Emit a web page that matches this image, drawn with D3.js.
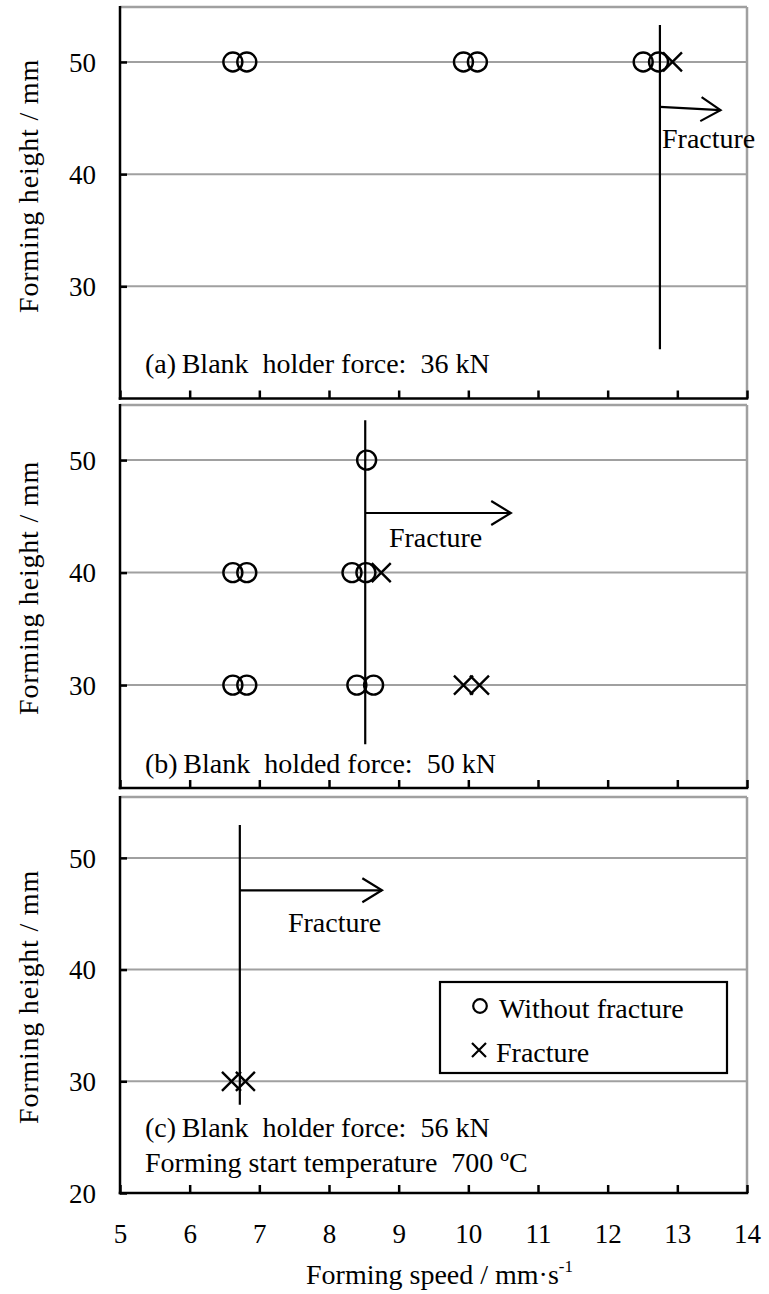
<!DOCTYPE html>
<html>
<head>
<meta charset="utf-8">
<script src="https://cdn.jsdelivr.net/npm/d3@7"></script>
<style>
  html, body { margin: 0; padding: 0; background: #fff; }
  svg { display: block; }
  svg text { font-family: "Liberation Serif", "Times New Roman", Times, "DejaVu Serif", serif; fill: #000; }
</style>
</head>
<body>
<svg id="chart" width="769" height="1294"></svg>
<script>
// ---- data -------------------------------------------------------------
const speedTicks = [5, 6, 7, 8, 9, 10, 11, 12, 13, 14];
const heightTicksA = [30, 40, 50];
const heightTicksB = [30, 40, 50];
const heightTicksC = [20, 30, 40, 50];
const gridHeights = [30, 40, 50];

// [forming speed (mm/s), forming height (mm)]
const noFractureA = [[6.62, 50], [6.82, 50], [9.93, 50], [10.13, 50], [12.51, 50], [12.73, 50]];
const fractureA = [[12.93, 50]];
const noFractureB = [[8.54, 50], [6.62, 40], [6.82, 40], [8.33, 40], [8.53, 40],
                     [6.62, 30], [6.82, 30], [8.40, 30], [8.64, 30]];
const fractureB = [[8.75, 40], [9.93, 30], [10.16, 30]];
const noFractureC = [];
const fractureC = [[6.6, 30], [6.8, 30]];

// fracture boundary: speed, height span, arrow start/end, label anchor
const boundarySpeed = [12.75, 8.52, 6.72];
const boundarySpan = [[24.4, 53.3], [24.75, 53.55], [27.9, 52.95]];
const arrowFrom = [[12.75, 46.0], [8.52, 45.3], [6.72, 47.1]];
const arrowTo = [[13.62, 45.7], [10.61, 45.3], [8.76, 47.1]];
const fractureLabelAt = [[12.78, 42.3], [8.86, 42.3], [7.41, 43.4]];

const panelNotes = [
  ["(a)\u2009Blank  holder force:  36 kN"],
  ["(b)\u2009Blank  holded force:  50 kN"],
  ["(c)\u2009Blank  holder force:  56 kN", "Forming start temperature  700 \u00baC"]
];

const legendLabels = ["Without fracture", "Fracture"];
const xTitle = "Forming speed / mm\u00b7s";
const yTitle = "Forming height / mm";

// ---- layout -----------------------------------------------------------
const left = 120, right = 747;
const panelTop = [7, 405, 797];
const panelBottom = [398.5, 788, 1193];
const heightMin = [20, 20.85, 20];
const heightMax = [54.9, 54.9, 55.45];
const yTitleCenter = [186, 588, 997];
const noteBaseline = [[373], [773], [1137, 1172]];

const serif = "Liberation Serif, Times New Roman, Times, DejaVu Serif, serif";
const svg = d3.select("#chart").attr("font-family", serif);
const x = d3.scaleLinear().domain([5, 14]).range([left, right]);

const gridColor = "#a0a0a0";
const fontSize = 27;

const panels = [
  { ticks: heightTicksA, open: noFractureA, cross: fractureA },
  { ticks: heightTicksB, open: noFractureB, cross: fractureB },
  { ticks: heightTicksC, open: noFractureC, cross: fractureC }
];

function crossPath(cx, cy, r) {
  return `M${cx - r},${cy - r}L${cx + r},${cy + r}M${cx - r},${cy + r}L${cx + r},${cy - r}`;
}

panels.forEach((p, i) => {
  const y = d3.scaleLinear().domain([heightMin[i], heightMax[i]]).range([panelBottom[i], panelTop[i]]);
  const g = svg.append("g");

  // grid lines
  g.selectAll("line.grid").data(gridHeights).join("line")
    .attr("x1", left).attr("x2", right)
    .attr("y1", d => y(d)).attr("y2", d => y(d))
    .attr("stroke", gridColor).attr("stroke-width", 2);

  // frame: top and right in grey
  g.append("line").attr("x1", left).attr("x2", right)
    .attr("y1", panelTop[i]).attr("y2", panelTop[i])
    .attr("stroke", gridColor).attr("stroke-width", 2.5);
  g.append("line").attr("x1", right).attr("x2", right)
    .attr("y1", panelTop[i]).attr("y2", panelBottom[i])
    .attr("stroke", gridColor).attr("stroke-width", 2.5);

  // y axis
  const yAxis = g.append("g").attr("transform", `translate(${left},0)`)
    .call(d3.axisLeft(y).tickValues(p.ticks).tickSize(-7).tickPadding(24).tickFormat(d3.format("d")));
  yAxis.attr("font-family", serif);
  yAxis.select(".domain").remove();
  yAxis.selectAll(".tick line").attr("stroke", "#000").attr("stroke-width", 2.5);
  yAxis.selectAll(".tick text").attr("font-size", fontSize).attr("dy", "0.34em");
  g.append("line").attr("x1", left).attr("x2", left)
    .attr("y1", panelTop[i] - 1).attr("y2", panelBottom[i] + 1.25)
    .attr("stroke", "#000").attr("stroke-width", 2.5);

  // x axis
  const xAxis = g.append("g").attr("transform", `translate(0,${panelBottom[i]})`)
    .call(d3.axisBottom(x).tickValues(speedTicks).tickSize(-8).tickPadding(31).tickFormat(d3.format("d")));
  xAxis.attr("font-family", serif);
  xAxis.select(".domain").remove();
  xAxis.selectAll(".tick line").attr("stroke", "#000").attr("stroke-width", 2.5);
  if (i < 2) xAxis.selectAll(".tick text").remove();
  else xAxis.selectAll(".tick text").attr("font-size", fontSize);
  g.append("line").attr("x1", left - 1.25).attr("x2", right + 1.25)
    .attr("y1", panelBottom[i]).attr("y2", panelBottom[i])
    .attr("stroke", "#000").attr("stroke-width", 2.5);

  // y title
  g.append("text")
    .attr("transform", `translate(38,${yTitleCenter[i]}) rotate(-90)`)
    .attr("text-anchor", "middle")
    .attr("font-size", 28)
    .attr("letter-spacing", 0.8)
    .text(yTitle);

  // fracture boundary + arrow
  g.append("line")
    .attr("x1", x(boundarySpeed[i])).attr("x2", x(boundarySpeed[i]))
    .attr("y1", y(boundarySpan[i][0])).attr("y2", y(boundarySpan[i][1]))
    .attr("stroke", "#000").attr("stroke-width", 2.2);
  const ax0 = x(arrowFrom[i][0]), ay0 = y(arrowFrom[i][1]);
  const ax1 = x(arrowTo[i][0]), ay1 = y(arrowTo[i][1]);
  g.append("line").attr("x1", ax0).attr("y1", ay0).attr("x2", ax1).attr("y2", ay1)
    .attr("stroke", "#000").attr("stroke-width", 2.2);
  const ang = Math.atan2(ay1 - ay0, ax1 - ax0);
  const hl = 23, ha = 0.55;
  g.append("path")
    .attr("d", `M${ax1 - hl * Math.cos(ang - ha)},${ay1 - hl * Math.sin(ang - ha)}L${ax1},${ay1}L${ax1 - hl * Math.cos(ang + ha)},${ay1 - hl * Math.sin(ang + ha)}`)
    .attr("fill", "none").attr("stroke", "#000").attr("stroke-width", 2.2);
  g.append("text")
    .attr("x", x(fractureLabelAt[i][0])).attr("y", y(fractureLabelAt[i][1]))
    .attr("font-size", 28).text("Fracture");

  // markers
  g.selectAll("circle.open").data(p.open).join("circle")
    .attr("cx", d => x(d[0])).attr("cy", d => y(d[1])).attr("r", 9.5)
    .attr("fill", "none").attr("stroke", "#000").attr("stroke-width", 2.4);
  g.selectAll("path.cross").data(p.cross).join("path")
    .attr("d", d => crossPath(x(d[0]), y(d[1]), 9.5))
    .attr("fill", "none").attr("stroke", "#000").attr("stroke-width", 2.4);

  // panel notes
  panelNotes[i].forEach((t, k) => {
    g.append("text").attr("x", 145).attr("y", noteBaseline[i][k])
      .attr("font-size", 28)
      .style("white-space", "pre").text(t);
  });

  // legend in the last panel
  if (i === 2) {
    const lg = g.append("g");
    lg.append("rect").attr("x", 440).attr("y", 982).attr("width", 287).attr("height", 91)
      .attr("fill", "#fff").attr("stroke", "#000").attr("stroke-width", 2.2);
    lg.append("circle").attr("cx", 480).attr("cy", 1006).attr("r", 6.8)
      .attr("fill", "none").attr("stroke", "#000").attr("stroke-width", 2.2);
    lg.append("path").attr("d", crossPath(479, 1050, 7))
      .attr("fill", "none").attr("stroke", "#000").attr("stroke-width", 2.2);
    lg.append("text").attr("x", 499).attr("y", 1018).attr("font-size", 28).text(legendLabels[0]);
    lg.append("text").attr("x", 496).attr("y", 1062).attr("font-size", 28).text(legendLabels[1]);
  }
});

// x title with superscript
const xt = svg.append("text").attr("x", (left + right) / 2 + 6).attr("y", 1284)
  .attr("text-anchor", "middle").attr("font-size", 28);
xt.append("tspan").text(xTitle);
xt.append("tspan").attr("font-size", 17).attr("dy", -12).text("-1");
</script>
</body>
</html>
